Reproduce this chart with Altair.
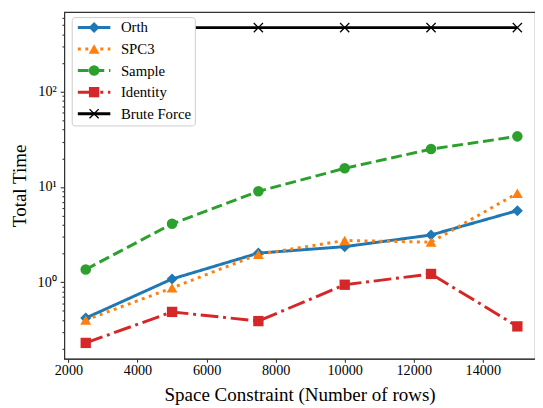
import altair as alt
import pandas as pd

# ---- data ----
x_rows = [2500, 5000, 7500, 10000, 12500, 15000]
orth = [0.42, 1.08, 2.02, 2.36, 3.13, 5.64]
spc3 = [0.40, 0.87, 1.96, 2.74, 2.63, 8.6]
sample = [1.36, 4.1, 9.0, 15.7, 25.0, 34.0]
identity = [0.23, 0.487, 0.39, 0.94, 1.22, 0.343]
brute = [472, 472, 472, 472, 472, 472]

series_names = ["Orth", "SPC3", "Sample", "Identity", "Brute Force"]
series_vals = [orth, spc3, sample, identity, brute]
colors = ["#1f77b4", "#ff7f0e", "#2ca02c", "#d62728", "#000000"]
dashes = [[1, 0], [3, 4.6], [11, 4.8], [18, 4.8, 3, 4.8], [1, 0]]
x_path = ("M-1,-0.82L-0.82,-1L0,-0.18L0.82,-1L1,-0.82L0.18,0L1,0.82L0.82,1"
          "L0,0.18L-0.82,1L-1,0.82L-0.18,0Z")
shapes = ["diamond", "triangle-up", "circle", "square", x_path]
sizes = [125, 105, 85, 95, 80]

x_ticks = [2000, 4000, 6000, 8000, 10000, 12000, 14000]
y_ticks = [0.2, 0.3, 0.4, 0.5, 0.6, 0.7, 0.8, 0.9, 1,
           2, 3, 4, 5, 6, 7, 8, 9, 10,
           20, 30, 40, 50, 60, 70, 80, 90, 100,
           200, 300, 400, 500, 600]

rows = []
for name, vals in zip(series_names, series_vals):
    for xv, yv in zip(x_rows, vals):
        rows.append({"series": name, "x": xv, "y": yv})
df = pd.DataFrame(rows)

FONT = "Liberation Serif"

xenc = alt.X("x:Q",
             scale=alt.Scale(domain=[1875, 15511], nice=False, zero=False),
             axis=alt.Axis(values=x_ticks, format="d", title="Space Constraint (Number of rows)",
                           grid=False, tickSize=3.5, labelPadding=2, titlePadding=9,
                           labelFont=FONT, titleFont=FONT))
yenc = alt.Y("y:Q",
             scale=alt.Scale(type="log", domain=[0.157, 689], nice=False),
             axis=alt.Axis(values=y_ticks, title="Total Time", grid=False,
                           labelExpr="datum.value == 1 ? '10\u2070' : datum.value == 10 ? '10\u00b9' : datum.value == 100 ? '10\u00b2' : ''",
                           labelOverlap=False, labelPadding=4,
                           tickSize={"condition": {"test": "indexof([1,10,100], datum.value) >= 0", "value": 4}, "value": 2.2},
                           titlePadding=8, labelFont=FONT, titleFont=FONT))

cscale = alt.Scale(domain=series_names, range=colors)
dscale = alt.Scale(domain=series_names, range=dashes)
sscale = alt.Scale(domain=series_names, range=shapes)
zscale = alt.Scale(domain=series_names, range=sizes)

common_leg = dict(orient="none", legendX=7.7, legendY=5.2, title=None, padding=3,
                  rowPadding=5.9, labelFont=FONT, labelFontSize=15,
                  symbolOffset=12.2, labelOffset=19.7, zindex=1)

leg_line = alt.Legend(symbolType="M-3,0L3,0", symbolSize=121, symbolStrokeWidth=3,
                      fillColor="#ffffff", strokeColor="#cccccc",
                      cornerRadius=3, labelColor="black", **common_leg)
leg_pt = alt.Legend(labelOpacity=0, **common_leg)

lines = alt.Chart(df).mark_line(strokeWidth=3).encode(
    x=xenc, y=yenc,
    color=alt.Color("series:N", scale=cscale, legend=leg_line),
    strokeDash=alt.StrokeDash("series:N", scale=dscale, legend=leg_line),
)

points = alt.Chart(df).mark_point(filled=True, opacity=1).encode(
    x=xenc, y=yenc,
    color=alt.Color("series:N", scale=cscale, legend=leg_pt),
    shape=alt.Shape("series:N", scale=sscale, legend=leg_pt),
    size=alt.Size("series:N", scale=zscale, legend=leg_pt),
)

chart = alt.layer(lines, points).resolve_legend(
    color="independent", strokeDash="independent", shape="independent", size="independent"
).properties(
    width=478, height=352,
    autosize=alt.AutoSizeParams(type="none"),
    padding={"left": 57, "top": 1, "right": 0, "bottom": 47},
).configure_view(
    stroke="#333333", strokeWidth=1.1
).configure_axis(
    labelFont=FONT, titleFont=FONT, labelFontSize=14.4, titleFontSize=19.3,
    titleFontWeight="normal", labelColor="black", titleColor="black",
    domainColor="#333333", tickColor="#333333", domainWidth=1.1, tickWidth=1.1
).configure_legend(
    labelFont=FONT, labelFontSize=15, zindex=1
)

chart.save("out.html", embed_options={"renderer": "svg", "actions": False})
